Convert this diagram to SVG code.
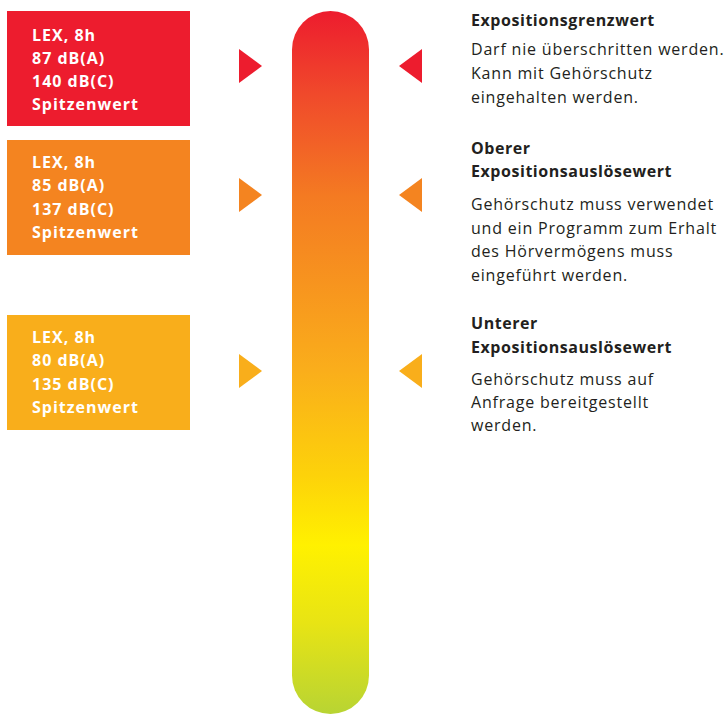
<svg xmlns="http://www.w3.org/2000/svg" width="725" height="715" viewBox="0 0 725 715">
  <defs>
    <linearGradient id="barGrad" gradientUnits="userSpaceOnUse" x1="0" y1="11" x2="0" y2="714">
      <stop offset="0" stop-color="#ED1C2E"/>
      <stop offset="0.12" stop-color="#F04A2B"/>
      <stop offset="0.262" stop-color="#F47A22"/>
      <stop offset="0.512" stop-color="#FAAE1B"/>
      <stop offset="0.66" stop-color="#FDD20A"/>
      <stop offset="0.76" stop-color="#FFF100"/>
      <stop offset="0.87" stop-color="#E8E414"/>
      <stop offset="1" stop-color="#B8D433"/>
    </linearGradient>
    <style>
      .lbl { font-family: "Open Sans", "Liberation Sans", sans-serif; font-weight: 700; font-size: 16px; letter-spacing: 1px; fill: #FFFFFF; }
      .ttl { font-family: "Open Sans", "Liberation Sans", sans-serif; font-weight: 700; font-size: 16px; letter-spacing: 0.55px; fill: #231F20; }
      .body { font-family: "Open Sans", "Liberation Sans", sans-serif; font-weight: 400; font-size: 16px; letter-spacing: 0.8px; fill: #231F20; }
      .red { fill: #ED1C2E; }
      .orange { fill: #F48420; }
      .yellow { fill: #F9AE1B; }
    </style>
  </defs>

  <g id="bar">
    <rect x="292" y="11" width="77" height="703" rx="38.5" ry="38.5" fill="url(#barGrad)"/>
  </g>

  <g id="box-grenzwert">
    <rect class="red" x="7" y="11" width="183" height="115"/>
    <text class="lbl" x="32" y="41">LEX, 8h</text>
    <text class="lbl" x="32" y="64">87 dB(A)</text>
    <text class="lbl" x="32" y="87">140 dB(C)</text>
    <text class="lbl" x="32" y="110">Spitzenwert</text>
  </g>

  <g id="box-oberer">
    <rect class="orange" x="7" y="140" width="183" height="115"/>
    <text class="lbl" x="32" y="168">LEX, 8h</text>
    <text class="lbl" x="32" y="191">85 dB(A)</text>
    <text class="lbl" x="32" y="215">137 dB(C)</text>
    <text class="lbl" x="32" y="238">Spitzenwert</text>
  </g>

  <g id="box-unterer">
    <rect class="yellow" x="7" y="315" width="183" height="115"/>
    <text class="lbl" x="32" y="343">LEX, 8h</text>
    <text class="lbl" x="32" y="366">80 dB(A)</text>
    <text class="lbl" x="32" y="390">135 dB(C)</text>
    <text class="lbl" x="32" y="413">Spitzenwert</text>
  </g>

  <g id="markers">
    <polygon class="red" points="239,49 262,66 239,83"/>
    <polygon class="red" points="422,49 399,66 422,83"/>
    <polygon class="orange" points="239,178 262,195 239,212"/>
    <polygon class="orange" points="422,178 399,195 422,212"/>
    <polygon class="yellow" points="239,354 262,371 239,388"/>
    <polygon class="yellow" points="422,354 399,371 422,388"/>
  </g>

  <g id="desc-grenzwert">
    <text class="ttl" x="471" y="26">Expositionsgrenzwert</text>
    <text class="body" x="471" y="55">Darf nie überschritten werden.</text>
    <text class="body" x="471" y="79">Kann mit Gehörschutz</text>
    <text class="body" x="471" y="103">eingehalten werden.</text>
  </g>

  <g id="desc-oberer">
    <text class="ttl" x="471" y="154">Oberer</text>
    <text class="ttl" x="471" y="177">Expositionsauslösewert</text>
    <text class="body" x="471" y="210">Gehörschutz muss verwendet</text>
    <text class="body" x="471" y="234">und ein Programm zum Erhalt</text>
    <text class="body" x="471" y="257">des Hörvermögens muss</text>
    <text class="body" x="471" y="281">eingeführt werden.</text>
  </g>

  <g id="desc-unterer">
    <text class="ttl" x="471" y="329">Unterer</text>
    <text class="ttl" x="471" y="353">Expositionsauslösewert</text>
    <text class="body" x="471" y="385">Gehörschutz muss auf</text>
    <text class="body" x="471" y="408">Anfrage bereitgestellt</text>
    <text class="body" x="471" y="431">werden.</text>
  </g>
</svg>
